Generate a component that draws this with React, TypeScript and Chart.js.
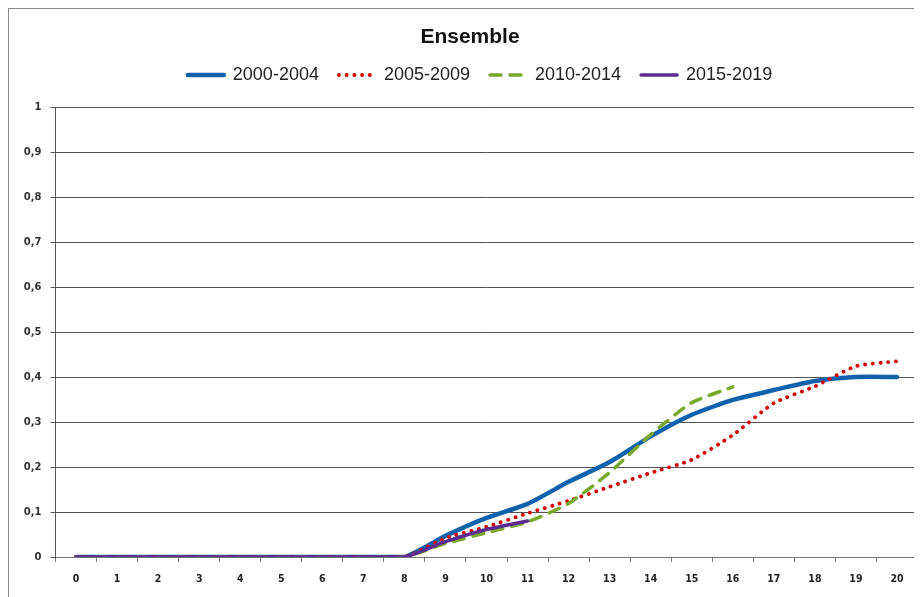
import React, { useEffect, useRef } from "react";
import { Chart, registerables } from "chart.js";

Chart.register(...registerables);

const categories = ["0", "1", "2", "3", "4", "5", "6", "7", "8", "9", "10", "11", "12", "13", "14", "15", "16", "17", "18", "19", "20"];
const seriesNames = ["2000-2004", "2005-2009", "2010-2014", "2015-2019"];
const series2000 = [0, 0, 0, 0, 0, 0, 0, 0, 0, 0.047, 0.087, 0.118, 0.167, 0.211, 0.268, 0.316, 0.349, 0.371, 0.391, 0.4, 0.4];
const series2005 = [0, 0, 0, 0, 0, 0, 0, 0, 0, 0.042, 0.067, 0.097, 0.125, 0.156, 0.187, 0.216, 0.271, 0.342, 0.379, 0.424, 0.435];
const series2010 = [0, 0, 0, 0, 0, 0, 0, 0, 0, 0.03, 0.054, 0.078, 0.119, 0.188, 0.272, 0.343, 0.378, null, null, null, null];
const series2015 = [0, 0, 0, 0, 0, 0, 0, 0, 0, 0.034, 0.061, 0.08, null, null, null, null, null, null, null, null, null];
const yMin = 0;
const yMax = 1;
const yStep = 0.1;

const legendShift = {
  id: "legendShift",
  afterLayout(chart: any, _args: any, opts: any) {
    const l = chart.legend;
    if (!l) return;
    l.left += opts.dx || 0;
    l.right += opts.dx || 0;
    l.top += opts.dy || 0;
    l.bottom += opts.dy || 0;
  },
};

export default function App() {
  const ref = useRef<HTMLCanvasElement | null>(null);

  useEffect(() => {
    document.body.style.overflow = "hidden";
    const canvas = ref.current;
    if (!canvas) return;
    const chart = new Chart(canvas, {
      type: "line",
      plugins: [legendShift],
      data: {
        labels: categories,
        datasets: [
          {
            label: seriesNames[0],
            data: series2000,
            borderColor: "#1062ad",
            backgroundColor: "#1062ad",
            borderWidth: 4.5,
            borderCapStyle: "round",
            pointRadius: 0,
            tension: 0.2,
            order: 4,
          },
          {
            label: seriesNames[1],
            data: series2005,
            borderColor: "#d40000",
            backgroundColor: "#d40000",
            borderWidth: 3.8,
            borderDash: [0.1, 7.6],
            borderCapStyle: "round",
            pointRadius: 0,
            tension: 0.2,
            order: 3,
          },
          {
            label: seriesNames[2],
            data: series2010,
            borderColor: "#7aa72c",
            backgroundColor: "#7aa72c",
            borderWidth: 3.5,
            borderDash: [11, 9],
            borderCapStyle: "round",
            pointRadius: 0,
            tension: 0.2,
            order: 2,
          },
          {
            label: seriesNames[3],
            data: series2015,
            borderColor: "#5b2c8f",
            backgroundColor: "#5b2c8f",
            borderWidth: 3.5,
            borderCapStyle: "round",
            pointRadius: 0,
            tension: 0.2,
            order: 1,
          },
        ],
      },
      options: {
        animation: false,
        responsive: true,
        maintainAspectRatio: false,
        layout: { padding: { left: 13.5, right: 4.5, top: 0, bottom: 0 } },
        plugins: {
          legendShift: { dx: 10, dy: -3.6 },
          tooltip: { enabled: false },
          title: {
            display: true,
            text: "Ensemble",
            color: "#111",
            font: { family: "'Liberation Sans', Arial, sans-serif", size: 21, weight: "bold", lineHeight: 1.2 },
            padding: { top: 15.4, bottom: 0 },
          },
          legend: {
            display: true,
            position: "top",
            labels: {
              usePointStyle: true,
              pointStyle: "line",
              pointStyleWidth: 36,
              boxHeight: 18,
              padding: 20,
              color: "#222",
              font: { family: "'Liberation Sans', Arial, sans-serif", size: 18 },
              sort: (a: any, b: any) => a.datasetIndex - b.datasetIndex,
              generateLabels: (ch: any) => {
                const items = Chart.defaults.plugins.legend.labels.generateLabels(ch);
                return items.map((it: any) => {
                  const ds: any = ch.data.datasets[it.datasetIndex];
                  return {
                    ...it,
                    pointStyle: "line",
                    strokeStyle: ds.borderColor,
                    fillStyle: ds.borderColor,
                    lineWidth: ds.borderWidth,
                    lineDash: ds.borderDash || [],
                    lineCap: ds.borderCapStyle || "butt",
                  };
                });
              },
            },
          },
        },
        scales: {
          x: {
            type: "category",
            offset: true,
            grid: {
              display: true,
              offset: true,
              drawOnChartArea: false,
              drawTicks: true,
              tickLength: 5,
              color: "#777",
            },
            border: { display: true, color: "#777", width: 1 },
            ticks: {
              color: "#222",
              padding: 11,
              maxRotation: 0,
              autoSkip: false,
              font: { family: "'DejaVu Sans Condensed', 'DejaVu Sans', sans-serif", size: 10.5, weight: "bold" },
            },
            afterFit: (s: any) => {
              s.height = 40;
            },
          },
          x2: {
            type: "category",
            position: "top",
            display: true,
            grid: { display: false },
            border: { display: false },
            ticks: { display: false },
            afterFit: (s: any) => {
              s.height = 9.4;
            },
          },
          y: {
            min: yMin,
            max: yMax,
            grid: {
              display: true,
              drawTicks: true,
              tickLength: 5,
              color: "#555",
              lineWidth: 1,
            },
            border: { display: true, color: "#555", width: 1 },
            ticks: {
              stepSize: yStep,
              padding: 9,
              color: "#333",
              font: { family: "'DejaVu Sans', sans-serif", size: 10, weight: "bold" },
              callback: (v: any) => {
                const n = Math.round(Number(v) * 10) / 10;
                return String(n).replace(".", ",");
              },
            },
            afterFit: (s: any) => {
              s.width = 33;
            },
          },
        },
      } as any,
    });
    return () => chart.destroy();
  }, []);

  return (
    <div
      style={{
        width: 913,
        height: 588,
        borderTop: "1px solid #8a8a8a",
        borderLeft: "1px solid #8a8a8a",
        position: "relative",
        background: "#fff",
      }}
    >
      <canvas ref={ref} />
    </div>
  );
}
